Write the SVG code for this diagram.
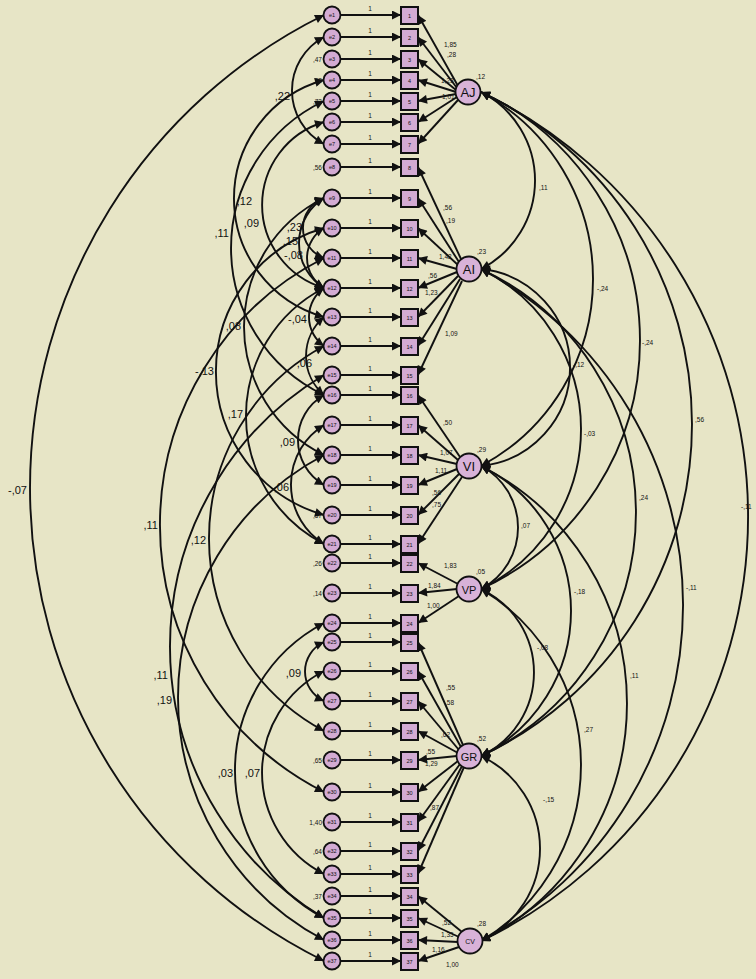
<svg xmlns="http://www.w3.org/2000/svg" width="756" height="979" viewBox="0 0 756 979">
<style>
.bg{fill:#e7e5c6}
.ln{fill:none;stroke:#111;stroke-width:1.9}
.one{marker-end:url(#ah)}
.two{marker-start:url(#ah);marker-end:url(#ah)}
.err circle{fill:#d3abd3;stroke:#111;stroke-width:1.8}
.obs rect{fill:#d3abd3;stroke:#111;stroke-width:2}
.lat circle{fill:#d8b2d8;stroke:#111;stroke-width:1.8}
text{font-family:"Liberation Sans",Arial,sans-serif;fill:#111}
.nt{font-size:5.5px;text-anchor:middle}
.lt{font-size:13px;text-anchor:middle}
.s{font-size:6.5px}
.m{font-size:11px}
.e{text-anchor:end}
</style>
<defs>
<marker id="ah" viewBox="0 0 10 10" refX="10" refY="5" markerWidth="13" markerHeight="9" markerUnits="userSpaceOnUse" orient="auto-start-reverse"><path d="M0,0 L10,5 L0,10 z" fill="#111"/></marker>
</defs>
<rect class="bg" x="0" y="0" width="756" height="979"/>
<g id="connectors">
<g class="ln one">
<path d="M341,15H401"/><path d="M341,37H401"/><path d="M341,59H401"/><path d="M341,80H401"/><path d="M341,101H401"/><path d="M341,122H401"/><path d="M341,144H401"/><path d="M341,167H401"/><path d="M341,198H401"/><path d="M341,228H401"/><path d="M341,258H401"/><path d="M341,288H401"/><path d="M341,317H401"/><path d="M341,346H401"/><path d="M341,375H401"/><path d="M341,395H401"/><path d="M341,425H401"/><path d="M341,455H401"/><path d="M341,485H401"/><path d="M341,515H401"/><path d="M341,544H401"/><path d="M341,563H401"/><path d="M341,593H401"/><path d="M341,623H401"/><path d="M341,642H401"/><path d="M341,671H401"/><path d="M341,701H401"/><path d="M341,731H401"/><path d="M341,760H401"/><path d="M341,792H401"/><path d="M341,822H401"/><path d="M341,851H401"/><path d="M341,874H401"/><path d="M341,896H401"/><path d="M341,918H401"/><path d="M341,940H401"/><path d="M341,961H401"/>
</g>
<g class="ln one">
<path d="M458,86L418,15"/><path d="M457,88L418,37"/><path d="M456,90L418,59"/><path d="M456,92L418,80"/><path d="M456,94L418,101"/><path d="M457,97L418,122"/><path d="M458,100L418,144"/>
<path d="M461,259L418,167"/><path d="M459,262L418,198"/><path d="M458,265L418,228"/><path d="M457,269L418,258"/><path d="M457,272L418,288"/><path d="M458,276L418,317"/><path d="M460,279L418,346"/><path d="M462,281L418,375"/>
<path d="M460,457L418,395"/><path d="M458,460L418,425"/><path d="M457,464L418,455"/><path d="M457,469L418,485"/><path d="M459,474L418,515"/><path d="M462,477L418,544"/>
<path d="M458,584L418,563"/><path d="M457,589L418,593"/><path d="M459,596L418,623"/>
<path d="M463,745L418,642"/><path d="M461,747L418,671"/><path d="M459,750L418,701"/><path d="M458,753L418,731"/><path d="M457,756L418,760"/><path d="M458,761L418,792"/><path d="M460,764L418,822"/><path d="M462,766L418,851"/><path d="M464,767L418,874"/>
<path d="M462,932L418,896"/><path d="M459,937L418,918"/><path d="M458,942L418,940"/><path d="M459,947L418,961"/>
</g>
<g class="ln two">
<path d="M324,15A527.5,527.5 0 0 0 324,961"/>
<path d="M324,37A60.7,60.7 0 0 0 324,144"/>
<path d="M324,80A123,123 0 0 0 324,317"/>
<path d="M324,122A86.6,86.6 0 0 0 324,288"/>
<path d="M324,101A162.7,162.7 0 0 0 324,395"/>
<path d="M324,198A31.9,31.9 0 0 0 324,258"/>
<path d="M324,198A53,53 0 0 0 324,288"/>
<path d="M324,228A35,35 0 0 0 324,288"/>
<path d="M324,288A35.5,35.5 0 0 0 324,346"/>
<path d="M324,317A51.3,51.3 0 0 0 324,395"/>
<path d="M324,198A143.2,143.2 0 0 0 324,455"/>
<path d="M324,228A149.3,149.3 0 0 0 324,515"/>
<path d="M324,288A144,144 0 0 0 324,544"/>
<path d="M324,395A51.9,51.9 0 0 0 324,485"/>
<path d="M324,425A70.1,70.1 0 0 0 324,544"/>
<path d="M324,258A299.3,299.3 0 0 0 324,792"/>
<path d="M324,346A218.6,218.6 0 0 0 324,731"/>
<path d="M324,375A316.3,316.3 0 0 0 324,918"/>
<path d="M324,455A274.4,274.4 0 0 0 324,940"/>
<path d="M324,623A166.7,166.7 0 0 0 324,918"/>
<path d="M324,671A114.1,114.1 0 0 0 324,874"/>
<path d="M324,642A32.4,32.4 0 0 0 324,701"/>
</g>
<g class="ln two">
<path d="M481,92A99.5,99.5 0 0 1 481,269"/>
<path d="M481,92A212.1,212.1 0 0 1 481,466"/>
<path d="M481,92A273.7,273.7 0 0 1 481,589"/>
<path d="M481,92A366.7,366.7 0 0 1 481,756"/>
<path d="M481,92A470.9,470.9 0 0 1 481,941"/>
<path d="M481,269A99,99 0 0 1 481,466"/>
<path d="M481,269A178,178 0 0 1 481,589"/>
<path d="M481,269A268.8,268.8 0 0 1 481,756"/>
<path d="M481,269A380.4,380.4 0 0 1 481,941"/>
<path d="M481,466A69.6,69.6 0 0 1 481,589"/>
<path d="M481,466A161.8,161.8 0 0 1 481,756"/>
<path d="M481,466A266.2,266.2 0 0 1 481,941"/>
<path d="M481,589A92.3,92.3 0 0 1 481,756"/>
<path d="M481,589A204.9,204.9 0 0 1 481,941"/>
<path d="M481,756A102,102 0 0 1 481,941"/>
</g>
</g>
<g class="err">
<g id="e1"><circle cx="332" cy="15" r="8.5"/><text class="nt" x="332" y="17">e1</text></g>
<g id="e2"><circle cx="332" cy="37" r="8.5"/><text class="nt" x="332" y="39">e2</text></g>
<g id="e3"><circle cx="332" cy="59" r="8.5"/><text class="nt" x="332" y="61">e3</text></g>
<g id="e4"><circle cx="332" cy="80" r="8.5"/><text class="nt" x="332" y="82">e4</text></g>
<g id="e5"><circle cx="332" cy="101" r="8.5"/><text class="nt" x="332" y="103">e5</text></g>
<g id="e6"><circle cx="332" cy="122" r="8.5"/><text class="nt" x="332" y="124">e6</text></g>
<g id="e7"><circle cx="332" cy="144" r="8.5"/><text class="nt" x="332" y="146">e7</text></g>
<g id="e8"><circle cx="332" cy="167" r="8.5"/><text class="nt" x="332" y="169">e8</text></g>
<g id="e9"><circle cx="332" cy="198" r="8.5"/><text class="nt" x="332" y="200">e9</text></g>
<g id="e10"><circle cx="332" cy="228" r="8.5"/><text class="nt" x="332" y="230">e10</text></g>
<g id="e11"><circle cx="332" cy="258" r="8.5"/><text class="nt" x="332" y="260">e11</text></g>
<g id="e12"><circle cx="332" cy="288" r="8.5"/><text class="nt" x="332" y="290">e12</text></g>
<g id="e13"><circle cx="332" cy="317" r="8.5"/><text class="nt" x="332" y="319">e13</text></g>
<g id="e14"><circle cx="332" cy="346" r="8.5"/><text class="nt" x="332" y="348">e14</text></g>
<g id="e15"><circle cx="332" cy="375" r="8.5"/><text class="nt" x="332" y="377">e15</text></g>
<g id="e16"><circle cx="332" cy="395" r="8.5"/><text class="nt" x="332" y="397">e16</text></g>
<g id="e17"><circle cx="332" cy="425" r="8.5"/><text class="nt" x="332" y="427">e17</text></g>
<g id="e18"><circle cx="332" cy="455" r="8.5"/><text class="nt" x="332" y="457">e18</text></g>
<g id="e19"><circle cx="332" cy="485" r="8.5"/><text class="nt" x="332" y="487">e19</text></g>
<g id="e20"><circle cx="332" cy="515" r="8.5"/><text class="nt" x="332" y="517">e20</text></g>
<g id="e21"><circle cx="332" cy="544" r="8.5"/><text class="nt" x="332" y="546">e21</text></g>
<g id="e22"><circle cx="332" cy="563" r="8.5"/><text class="nt" x="332" y="565">e22</text></g>
<g id="e23"><circle cx="332" cy="593" r="8.5"/><text class="nt" x="332" y="595">e23</text></g>
<g id="e24"><circle cx="332" cy="623" r="8.5"/><text class="nt" x="332" y="625">e24</text></g>
<g id="e25"><circle cx="332" cy="642" r="8.5"/><text class="nt" x="332" y="644">e25</text></g>
<g id="e26"><circle cx="332" cy="671" r="8.5"/><text class="nt" x="332" y="673">e26</text></g>
<g id="e27"><circle cx="332" cy="701" r="8.5"/><text class="nt" x="332" y="703">e27</text></g>
<g id="e28"><circle cx="332" cy="731" r="8.5"/><text class="nt" x="332" y="733">e28</text></g>
<g id="e29"><circle cx="332" cy="760" r="8.5"/><text class="nt" x="332" y="762">e29</text></g>
<g id="e30"><circle cx="332" cy="792" r="8.5"/><text class="nt" x="332" y="794">e30</text></g>
<g id="e31"><circle cx="332" cy="822" r="8.5"/><text class="nt" x="332" y="824">e31</text></g>
<g id="e32"><circle cx="332" cy="851" r="8.5"/><text class="nt" x="332" y="853">e32</text></g>
<g id="e33"><circle cx="332" cy="874" r="8.5"/><text class="nt" x="332" y="876">e33</text></g>
<g id="e34"><circle cx="332" cy="896" r="8.5"/><text class="nt" x="332" y="898">e34</text></g>
<g id="e35"><circle cx="332" cy="918" r="8.5"/><text class="nt" x="332" y="920">e35</text></g>
<g id="e36"><circle cx="332" cy="940" r="8.5"/><text class="nt" x="332" y="942">e36</text></g>
<g id="e37"><circle cx="332" cy="961" r="8.5"/><text class="nt" x="332" y="963">e37</text></g>
</g>
<g class="obs">
<g id="v1"><rect x="401" y="7" width="17" height="17"/><text class="nt" x="409.5" y="17.5">1</text></g>
<g id="v2"><rect x="401" y="29" width="17" height="17"/><text class="nt" x="409.5" y="39.5">2</text></g>
<g id="v3"><rect x="401" y="51" width="17" height="17"/><text class="nt" x="409.5" y="61.5">3</text></g>
<g id="v4"><rect x="401" y="72" width="17" height="17"/><text class="nt" x="409.5" y="82.5">4</text></g>
<g id="v5"><rect x="401" y="93" width="17" height="17"/><text class="nt" x="409.5" y="103.5">5</text></g>
<g id="v6"><rect x="401" y="114" width="17" height="17"/><text class="nt" x="409.5" y="124.5">6</text></g>
<g id="v7"><rect x="401" y="136" width="17" height="17"/><text class="nt" x="409.5" y="146.5">7</text></g>
<g id="v8"><rect x="401" y="159" width="17" height="17"/><text class="nt" x="409.5" y="169.5">8</text></g>
<g id="v9"><rect x="401" y="190" width="17" height="17"/><text class="nt" x="409.5" y="200.5">9</text></g>
<g id="v10"><rect x="401" y="220" width="17" height="17"/><text class="nt" x="409.5" y="230.5">10</text></g>
<g id="v11"><rect x="401" y="250" width="17" height="17"/><text class="nt" x="409.5" y="260.5">11</text></g>
<g id="v12"><rect x="401" y="280" width="17" height="17"/><text class="nt" x="409.5" y="290.5">12</text></g>
<g id="v13"><rect x="401" y="309" width="17" height="17"/><text class="nt" x="409.5" y="319.5">13</text></g>
<g id="v14"><rect x="401" y="338" width="17" height="17"/><text class="nt" x="409.5" y="348.5">14</text></g>
<g id="v15"><rect x="401" y="367" width="17" height="17"/><text class="nt" x="409.5" y="377.5">15</text></g>
<g id="v16"><rect x="401" y="387" width="17" height="17"/><text class="nt" x="409.5" y="397.5">16</text></g>
<g id="v17"><rect x="401" y="417" width="17" height="17"/><text class="nt" x="409.5" y="427.5">17</text></g>
<g id="v18"><rect x="401" y="447" width="17" height="17"/><text class="nt" x="409.5" y="457.5">18</text></g>
<g id="v19"><rect x="401" y="477" width="17" height="17"/><text class="nt" x="409.5" y="487.5">19</text></g>
<g id="v20"><rect x="401" y="507" width="17" height="17"/><text class="nt" x="409.5" y="517.5">20</text></g>
<g id="v21"><rect x="401" y="536" width="17" height="17"/><text class="nt" x="409.5" y="546.5">21</text></g>
<g id="v22"><rect x="401" y="555" width="17" height="17"/><text class="nt" x="409.5" y="565.5">22</text></g>
<g id="v23"><rect x="401" y="585" width="17" height="17"/><text class="nt" x="409.5" y="595.5">23</text></g>
<g id="v24"><rect x="401" y="615" width="17" height="17"/><text class="nt" x="409.5" y="625.5">24</text></g>
<g id="v25"><rect x="401" y="634" width="17" height="17"/><text class="nt" x="409.5" y="644.5">25</text></g>
<g id="v26"><rect x="401" y="663" width="17" height="17"/><text class="nt" x="409.5" y="673.5">26</text></g>
<g id="v27"><rect x="401" y="693" width="17" height="17"/><text class="nt" x="409.5" y="703.5">27</text></g>
<g id="v28"><rect x="401" y="723" width="17" height="17"/><text class="nt" x="409.5" y="733.5">28</text></g>
<g id="v29"><rect x="401" y="752" width="17" height="17"/><text class="nt" x="409.5" y="762.5">29</text></g>
<g id="v30"><rect x="401" y="784" width="17" height="17"/><text class="nt" x="409.5" y="794.5">30</text></g>
<g id="v31"><rect x="401" y="814" width="17" height="17"/><text class="nt" x="409.5" y="824.5">31</text></g>
<g id="v32"><rect x="401" y="843" width="17" height="17"/><text class="nt" x="409.5" y="853.5">32</text></g>
<g id="v33"><rect x="401" y="866" width="17" height="17"/><text class="nt" x="409.5" y="876.5">33</text></g>
<g id="v34"><rect x="401" y="888" width="17" height="17"/><text class="nt" x="409.5" y="898.5">34</text></g>
<g id="v35"><rect x="401" y="910" width="17" height="17"/><text class="nt" x="409.5" y="920.5">35</text></g>
<g id="v36"><rect x="401" y="932" width="17" height="17"/><text class="nt" x="409.5" y="942.5">36</text></g>
<g id="v37"><rect x="401" y="953" width="17" height="17"/><text class="nt" x="409.5" y="963.5">37</text></g>
</g>
<g class="lat">
<g id="AJ"><circle cx="468" cy="92" r="12.5"/><text class="lt" x="468" y="97">AJ</text></g>
<g id="AI"><circle cx="469" cy="269" r="12.5"/><text class="lt" x="469" y="274">AI</text></g>
<g id="VI"><circle cx="469" cy="466" r="12.5"/><text class="lt" x="469" y="471">VI</text></g>
<g id="VP"><circle cx="469" cy="589" r="12.5"/><text class="lt" x="469" y="594" style="font-size:11px">VP</text></g>
<g id="GR"><circle cx="469" cy="756" r="12.5"/><text class="lt" x="469" y="761" style="font-size:11px">GR</text></g>
<g id="CV"><circle cx="470" cy="941" r="12.5"/><text class="lt" x="470" y="944" style="font-size:7px">CV</text></g>
</g>
<g id="weights" class="s" text-anchor="middle">
<text x="370" y="11">1</text><text x="370" y="33">1</text><text x="370" y="55">1</text><text x="370" y="76">1</text><text x="370" y="97">1</text><text x="370" y="118">1</text><text x="370" y="140">1</text><text x="370" y="163">1</text><text x="370" y="194">1</text><text x="370" y="224">1</text><text x="370" y="254">1</text><text x="370" y="284">1</text><text x="370" y="313">1</text><text x="370" y="342">1</text><text x="370" y="371">1</text><text x="370" y="391">1</text><text x="370" y="421">1</text><text x="370" y="451">1</text><text x="370" y="481">1</text><text x="370" y="511">1</text><text x="370" y="540">1</text><text x="370" y="559">1</text><text x="370" y="589">1</text><text x="370" y="619">1</text><text x="370" y="638">1</text><text x="370" y="667">1</text><text x="370" y="697">1</text><text x="370" y="727">1</text><text x="370" y="756">1</text><text x="370" y="788">1</text><text x="370" y="818">1</text><text x="370" y="847">1</text><text x="370" y="870">1</text><text x="370" y="892">1</text><text x="370" y="914">1</text><text x="370" y="936">1</text><text x="370" y="957">1</text>
</g>
<g id="errvar" class="s e">
<text x="322" y="62">,47</text><text x="322" y="83">,52</text><text x="322" y="104">,73</text><text x="322" y="170">,56</text><text x="322" y="518">,57</text><text x="322" y="566">,26</text><text x="322" y="596">,14</text><text x="322" y="763">,65</text><text x="322" y="825">1,40</text><text x="322" y="854">,64</text><text x="322" y="899">,37</text>
</g>
<g id="factvar" class="s">
<text x="476" y="79">,12</text><text x="477" y="254">,23</text><text x="477" y="452">,29</text><text x="476" y="574">,05</text><text x="477" y="741">,52</text><text x="477" y="926">,28</text>
</g>
<g id="loadings" class="s">
<text x="444" y="47">1,85</text><text x="447" y="57">,28</text><text x="441" y="83">1,23</text><text x="442" y="99">1,01</text>
<text x="443" y="210">,56</text><text x="446" y="223">,19</text><text x="439" y="259">1,42</text><text x="428" y="278">,56</text><text x="425" y="295">1,23</text><text x="445" y="336">1,09</text>
<text x="443" y="425">,50</text><text x="440" y="455">1,07</text><text x="435" y="473">1,11</text><text x="432" y="495">,56</text><text x="432" y="507">,75</text>
<text x="444" y="568">1,83</text><text x="428" y="588">1,84</text><text x="427" y="608">1,00</text>
<text x="446" y="690">,55</text><text x="445" y="705">,58</text><text x="441" y="737">,62</text><text x="426" y="754">,55</text><text x="425" y="766">1,29</text><text x="430" y="810">,87</text>
<text x="442" y="925">,52</text><text x="441" y="937">1,35</text><text x="432" y="952">1,16</text><text x="446" y="967">1,00</text>
</g>
<g id="leftcov" class="m e">
<text x="27" y="494">-,07</text>
<text x="290" y="100">,22</text>
<text x="252" y="205">,12</text>
<text x="259" y="227">,09</text>
<text x="229" y="237">,11</text>
<text x="302" y="231">,23</text>
<text x="298" y="245">,15</text>
<text x="303" y="259">-,08</text>
<text x="307" y="323">-,04</text>
<text x="312" y="367">,06</text>
<text x="241" y="330">,08</text>
<text x="214" y="375">-,13</text>
<text x="243" y="418">,17</text>
<text x="295" y="446">,09</text>
<text x="289" y="491">,06</text>
<text x="158" y="529">,11</text>
<text x="206" y="544">,12</text>
<text x="168" y="679">,11</text>
<text x="172" y="704">,19</text>
<text x="233" y="777">,03</text>
<text x="260" y="777">,07</text>
<text x="301" y="677">,09</text>
</g>
<g id="rightcov" class="s">
<text x="539" y="190">,11</text>
<text x="597" y="291">-,24</text>
<text x="642" y="345">-,24</text>
<text x="695" y="422">,56</text>
<text x="741" y="509">-,11</text>
<text x="573" y="367">-,12</text>
<text x="584" y="436">-,03</text>
<text x="639" y="500">,24</text>
<text x="686" y="590">-,11</text>
<text x="521" y="528">,07</text>
<text x="574" y="594">-,18</text>
<text x="630" y="678">,11</text>
<text x="537" y="650">-,08</text>
<text x="584" y="732">,27</text>
<text x="543" y="802">-,15</text>
</g>
</svg>
